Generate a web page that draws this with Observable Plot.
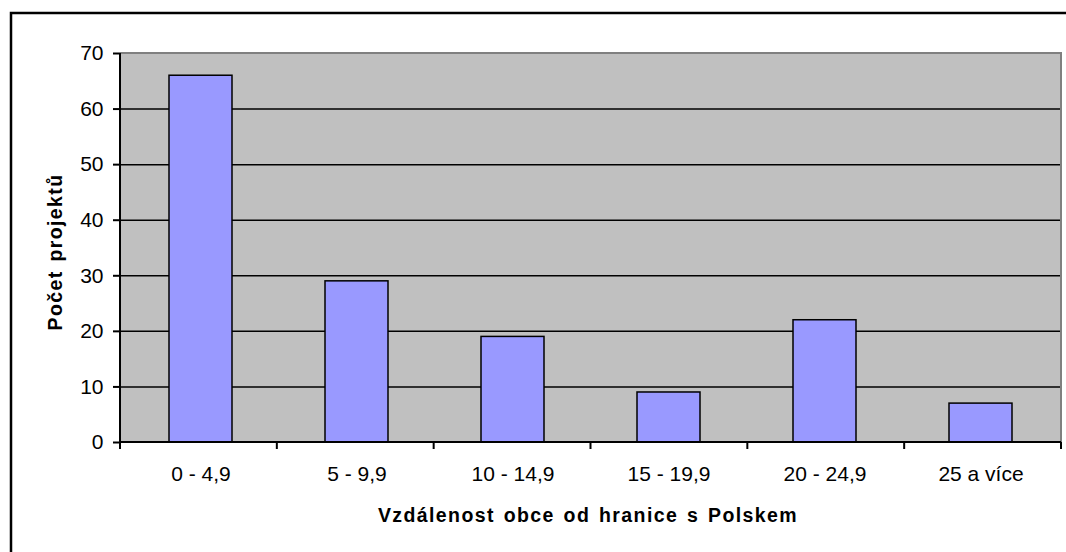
<!DOCTYPE html>
<html>
<head>
<meta charset="utf-8">
<script src="https://cdn.jsdelivr.net/npm/d3@7"></script>
<script src="https://cdn.jsdelivr.net/npm/@observablehq/plot@0.6"></script>
<style>
  html, body { margin: 0; padding: 0; background: white; overflow: hidden; }
  g[aria-label="text"] text { letter-spacing: 1.4px; word-spacing: 2px; }
</style>
</head>
<body>
<div id="chart"></div>
<script>
const categories = ["0 - 4,9", "5 - 9,9", "10 - 14,9", "15 - 19,9", "20 - 24,9", "25 a více"];
const counts = [66, 29, 19, 9, 22, 7];
const yTicks = [0, 10, 20, 30, 40, 50, 60, 70];
const xTitle = "Vzdálenost obce od hranice s Polskem";
const yTitle = "Počet projektů";

const data = categories.map((c, i) => ({cat: c, value: counts[i]}));

function decorations(index, scales, values, dims) {
  const {width, height, marginLeft, marginRight, marginTop, marginBottom} = dims;
  const left = marginLeft, right = width - marginRight;
  const top = marginTop, bottom = height - marginBottom;
  const n = categories.length, step = (right - left) / n;
  const g = d3.create("svg:g");
  // gray top/right plot border
  g.append("path")
    .attr("d", `M${left},${top}H${right}V${bottom}`)
    .attr("fill", "none").attr("stroke", "#808080").attr("stroke-width", 2);
  // left axis line
  g.append("line")
    .attr("x1", left).attr("x2", left).attr("y1", top).attr("y2", bottom)
    .attr("stroke", "black").attr("stroke-width", 2);
  // baseline
  g.append("line")
    .attr("x1", left).attr("x2", right).attr("y1", bottom).attr("y2", bottom)
    .attr("stroke", "black").attr("stroke-width", 2);
  // category boundary ticks
  g.selectAll("line.tb").data(d3.range(n + 1)).join("line")
    .attr("class", "tb")
    .attr("x1", i => left + i * step).attr("x2", i => left + i * step)
    .attr("y1", bottom).attr("y2", bottom + 7)
    .attr("stroke", "black").attr("stroke-width", 2);
  // outer chart-area border (cropped at right/bottom)
  g.append("path")
    .attr("d", `M11,${height}V13H${width}`)
    .attr("fill", "none").attr("stroke", "black").attr("stroke-width", 2.5);
  return g.node();
}

const chart = Plot.plot({
  width: 1066,
  height: 552,
  marginLeft: 120,
  marginRight: 5,
  marginTop: 53,
  marginBottom: 110,
  style: {
    fontFamily: "'Liberation Sans', Arial, sans-serif",
    fontSize: "21px",
    color: "black",
    background: "white"
  },
  x: {domain: categories, paddingInner: 0.594, paddingOuter: 0.297, label: null},
  y: {domain: [0, 70], ticks: yTicks, label: null},
  marks: [
    Plot.frame({fill: "#c0c0c0", stroke: "none"}),
    Plot.gridY(yTicks.slice(1, -1), {stroke: "black", strokeOpacity: 1, strokeWidth: 1.5}),
    Plot.barY(data, {x: "cat", y: "value", fill: "#9999ff", stroke: "black", strokeWidth: 1.5}),
    Plot.axisY({ticks: yTicks, tickSize: 7, tickPadding: 10, label: null, strokeWidth: 2, fontSize: 21}),
    Plot.axisX({tickSize: 0, tickPadding: 24, label: null, fontSize: 21}),
    decorations,
    Plot.text([yTitle], {text: d => d, frameAnchor: "left", textAnchor: "middle", rotate: -90, dx: -65, dy: 4,
      fontWeight: "bold", fontSize: 19.5, lineAnchor: "middle"}),
    Plot.text([xTitle], {text: d => d, frameAnchor: "bottom", textAnchor: "middle", dy: 66, dx: -3,
      fontWeight: "bold", fontSize: 19.5, lineAnchor: "top"})
  ]
});

document.getElementById("chart").appendChild(chart);
</script>
</body>
</html>
